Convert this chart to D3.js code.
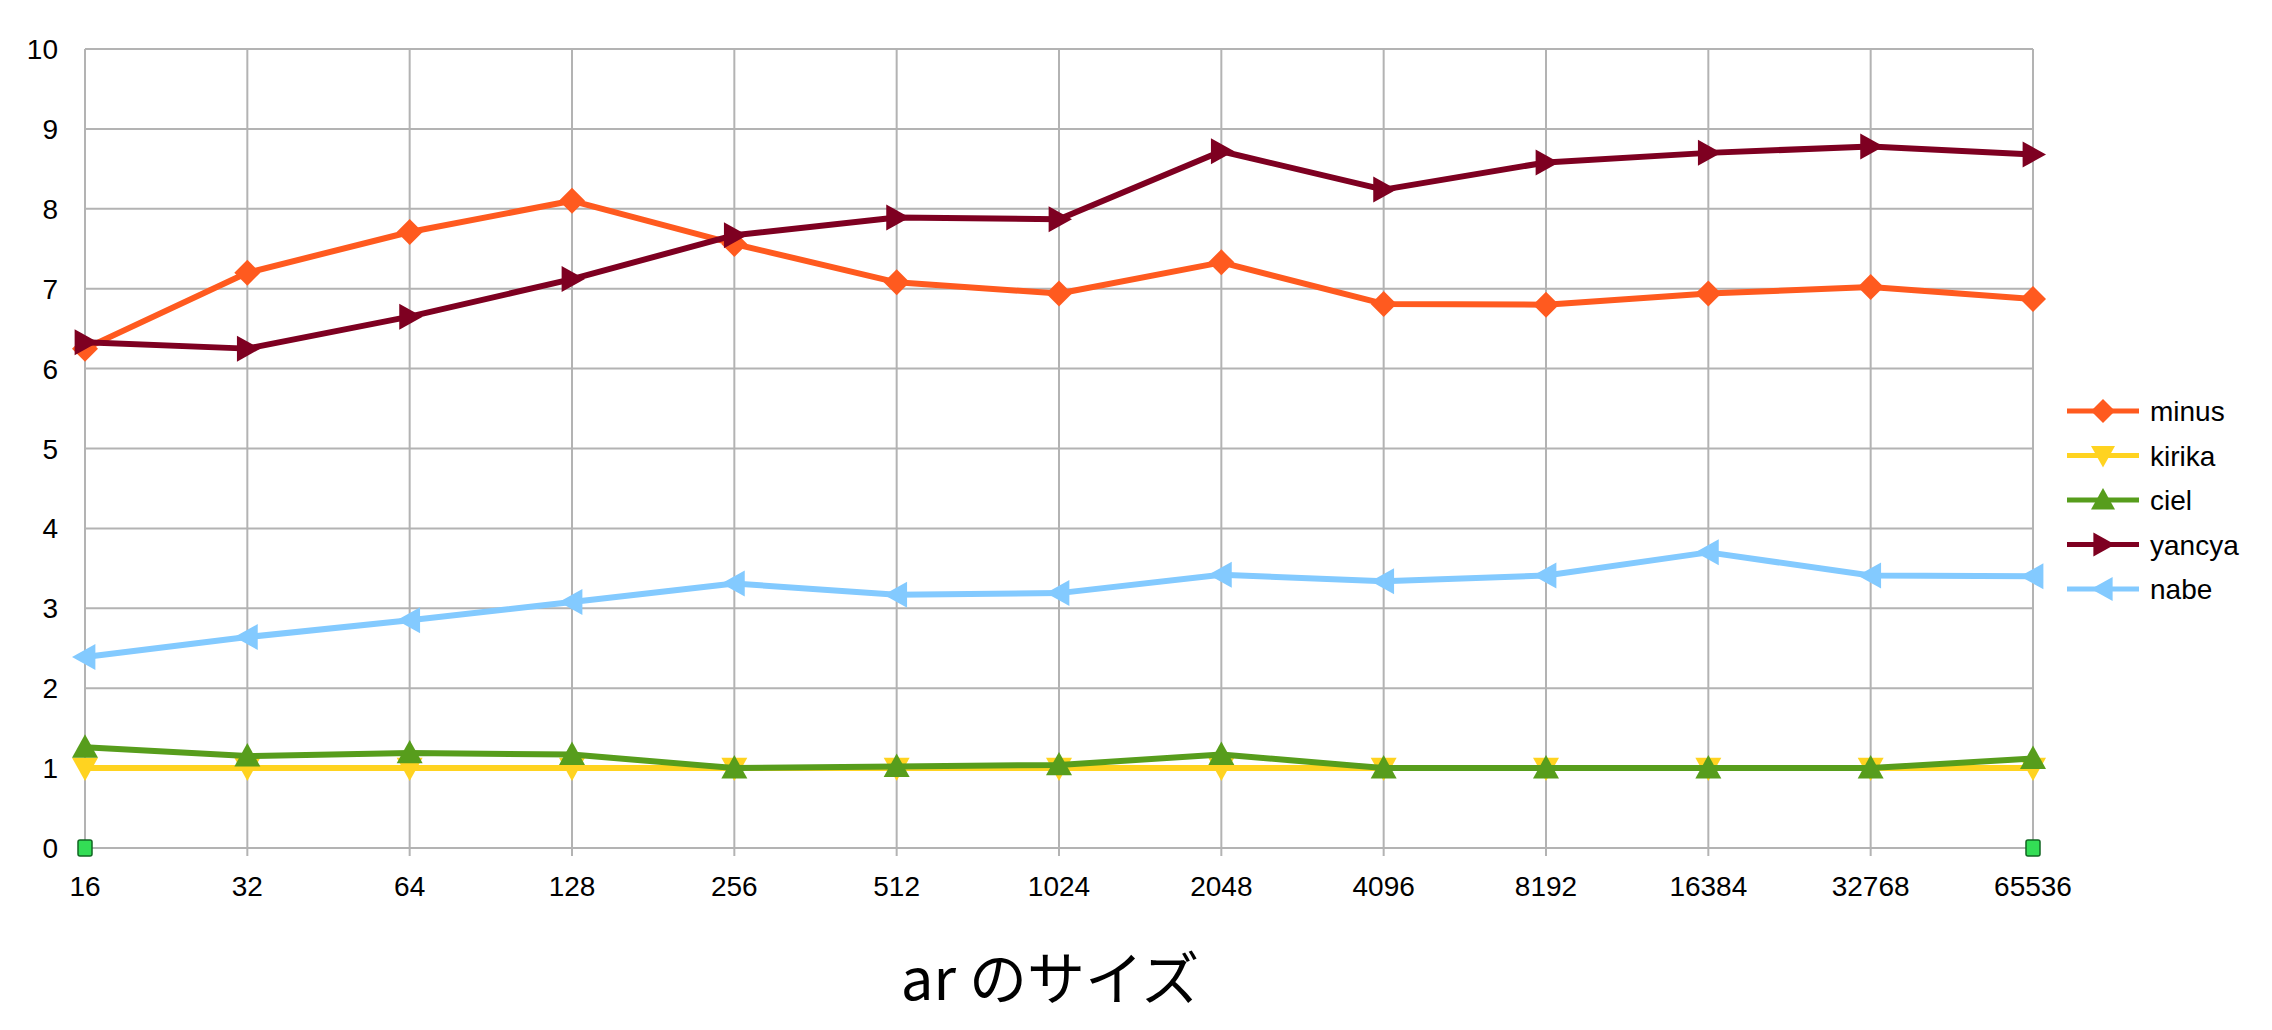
<!DOCTYPE html>
<html><head><meta charset="utf-8">
<script src="https://cdn.jsdelivr.net/npm/d3@7"></script>
<style>body{margin:0;background:#fff}</style>
</head><body><svg id="c" width="2272" height="1030"></svg>
<script>
const categories=["16","32","64","128","256","512","1024","2048","4096","8192","16384","32768","65536"];
const minus=[6.25,7.2,7.71,8.1,7.56,7.08,6.94,7.33,6.81,6.8,6.94,7.02,6.87];
const kirika=[1,1,1,1,1,1,1,1,1,1,1,1,1];
const ciel=[1.26,1.15,1.19,1.17,1.0,1.02,1.04,1.17,1.0,1.0,1.0,1.0,1.12];
const yancya=[6.33,6.25,6.65,7.12,7.67,7.89,7.87,8.72,8.24,8.58,8.70,8.78,8.68];
const nabe=[2.39,2.64,2.85,3.08,3.31,3.17,3.19,3.42,3.34,3.41,3.70,3.41,3.40];
const marker0=[[0,0],[12,0]];
const yTicks=[0,1,2,3,4,5,6,7,8,9,10];
const seriesNames=["minus","kirika","ciel","yancya","nabe"];
const colors=["#ff5a1f","#ffd320","#579d1c","#7e0021","#83caff"];
const shapes=["diamond","down","up","right","left"];
const series=[minus,kirika,ciel,yancya,nabe];

const svg=d3.select("#c");
const x=d3.scalePoint().domain(categories).range([85,2033]);
const y=d3.scaleLinear().domain([0,10]).range([848,49]);
const font="Liberation Sans, Arial, sans-serif";

const g=svg.append("g");
g.selectAll(".hg").data(yTicks).join("line").attr("x1",85).attr("x2",2033)
 .attr("y1",d=>y(d)).attr("y2",d=>y(d)).attr("stroke","#b3b3b3").attr("stroke-width",2);
g.selectAll(".vg").data(categories).join("line").attr("x1",d=>x(d)).attr("x2",d=>x(d))
 .attr("y1",49).attr("y2",856).attr("stroke","#b3b3b3").attr("stroke-width",2);
g.selectAll(".yl").data(yTicks).join("text").attr("x",58).attr("y",d=>y(d)+10)
 .attr("text-anchor","end").attr("font-family",font).attr("font-size",28).text(d=>d);
g.selectAll(".xl").data(categories).join("text").attr("x",d=>x(d)).attr("y",896)
 .attr("text-anchor","middle").attr("font-family",font).attr("font-size",28).text(d=>d);

function shapePath(s,r){
  switch(s){
    case "diamond": return `M0,${-r}L${r},0L0,${r}L${-r},0Z`;
    case "down": return `M${-r},${-r*0.8}L${r},${-r*0.8}L0,${r}Z`;
    case "up": return `M${-r},${r*0.8}L${r},${r*0.8}L0,${-r}Z`;
    case "right": return `M${-r*0.8},${-r}L${-r*0.8},${r}L${r},0Z`;
    case "left": return `M${r*0.8},${-r}L${r*0.8},${r}L${-r},0Z`;
  }
}
const line=d3.line().x((d,i)=>x(categories[i])).y(d=>y(d));
series.forEach((s,k)=>{
  g.append("path").attr("d",line(s)).attr("fill","none").attr("stroke",colors[k])
   .attr("stroke-width",6).attr("stroke-linejoin","round");
  g.selectAll(null).data(s).join("path")
   .attr("transform",(d,i)=>`translate(${x(categories[i])},${y(d)})`)
   .attr("d",shapePath(shapes[k],13)).attr("fill",colors[k]);
});
g.selectAll(".sq").data(marker0).join("rect")
 .attr("x",d=>x(categories[d[0]])-7).attr("y",d=>y(d[1])-8).attr("width",14).attr("height",16)
 .attr("rx",2).attr("fill","#33dd55").attr("stroke","#116622").attr("stroke-width",1.5);

const lg=svg.append("g");
seriesNames.forEach((n,k)=>{
  const yy=411+k*44.5;
  lg.append("line").attr("x1",2067).attr("x2",2139).attr("y1",yy).attr("y2",yy)
   .attr("stroke",colors[k]).attr("stroke-width",5);
  lg.append("path").attr("transform",`translate(2103,${yy})`).attr("d",shapePath(shapes[k],12)).attr("fill",colors[k]);
  lg.append("text").attr("x",2150).attr("y",yy+10).attr("font-family",font).attr("font-size",28).text(n);
});
svg.append("text").attr("x",1050).attr("y",1000).attr("text-anchor","middle")
 .attr("font-family","Noto Sans CJK JP, sans-serif").attr("font-size",58).text("ar のサイズ");
</script></body></html>
